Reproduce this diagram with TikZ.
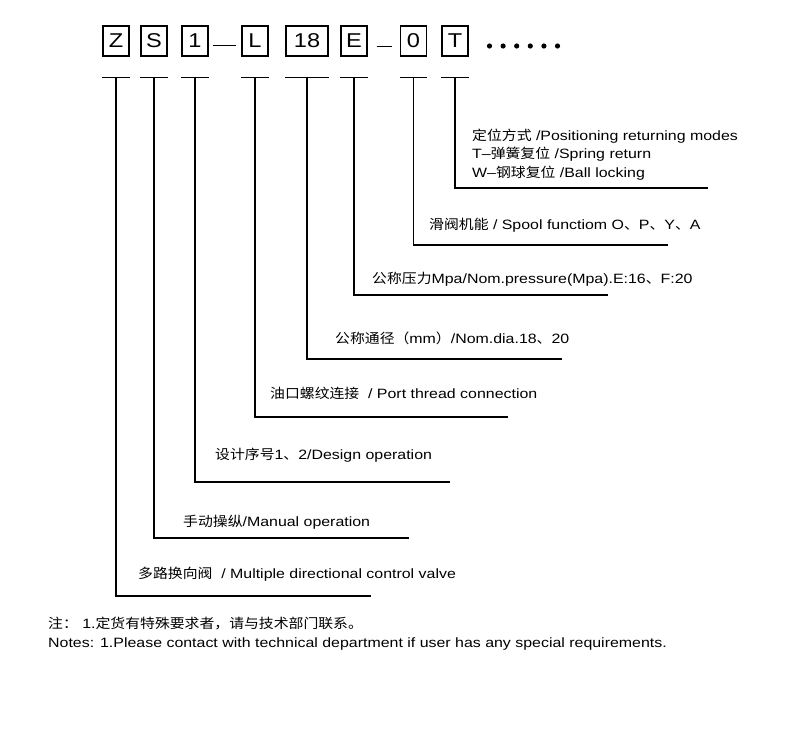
\documentclass[tikz,border=0pt]{standalone}
\usepackage{fontspec}
\setmainfont{Liberation Sans}[FakeStretch=1.18]
\newfontfamily\cjk{Noto Sans CJK SC}[FakeStretch=1.1]
\newcommand\zh[1]{{\cjk #1}}
\tikzset{
    codebox/.style={draw, line width=1.1pt, minimum width=26pt, minimum height=30pt, inner sep=0pt, font=\fontsize{20}{20}\selectfont},
    legend/.style={anchor=base west, inner sep=0pt, font=\fontsize{13.5}{15}\selectfont},
    leader/.style={line width=1.1pt},
}
\begin{document}
\begin{tikzpicture}[x=1pt, y=-1pt]
    \useasboundingbox (0,0) rectangle (800,750);
    % model code boxes
    \node[codebox] (z) at (116,41) {Z};
    \node[codebox] (s) at (154,41) {S};
    \node[codebox] (one) at (195,41) {1};
    \node[codebox] (l) at (255,41) {L};
    \node[codebox, minimum width=42pt] (eighteen) at (307,41) {18};
    \node[codebox] (e) at (354,41) {E};
    \node[codebox] (zero) at (413.5,41) {0};
    \node[codebox] (t) at (455,41) {T};
    \draw[line width=0.8pt] ([xshift=4pt,yshift=-4pt]one.east) -- ([xshift=-5pt,yshift=-4pt]l.west);
    \draw[line width=0.8pt] ([xshift=9pt,yshift=-5pt]e.east) -- ([xshift=-8pt,yshift=-5pt]zero.west);
    \foreach \i in {0,...,5}
        \fill (489.5+13.6*\i,46) circle (2.6pt);

    % explanations
    \node[legend] (tA) at (472,140) {\zh{定位方式} /Positioning returning modes};
    \node[legend] (tB) at (472,158) {T--\zh{弹簧复位} /Spring return};
    \node[legend] (tC) at (472,177) {W--\zh{钢球复位} /Ball locking};
    \node[legend] (zeroA) at (429,229) {\zh{滑阀机能} / Spool functiom O\zh{、}P\zh{、}Y\zh{、}A};
    \node[legend] (eA) at (372,283) {\zh{公称压力}Mpa/Nom.pressure(Mpa).E:16\zh{、}F:20};
    \node[legend] (eighteenA) at (335,343) {\zh{公称通径（}mm\zh{）}/Nom.dia.18\zh{、}20};
    \node[legend] (lA) at (270,398) {\zh{油口螺纹连接}\ \ / Port thread connection};
    \node[legend] (oneA) at (215,459) {\zh{设计序号}1\zh{、}2/Design operation};
    \node[legend] (sA) at (183,526) {\zh{手动操纵}/Manual operation};
    \node[legend] (zA) at (138,578) {\zh{多路换向阀}\ \ / Multiple directional control valve};

    % leader lines
    \foreach \b/\y/\xe in {z/596/371, s/538/409, one/482/450, l/417/508,
                          eighteen/359/562, e/295/608, zero/245/668, t/188/708} {
        \coordinate (\b End) at (\xe,\y);
        \draw[leader] ([yshift=-21pt]\b.south west) -- ([yshift=-21pt]\b.south east);
        \draw[leader] ([yshift=-21pt]\b.south) |- (\b End);
    }

    % notes
    \node[legend] (noteA) at (48,628) {\zh{注：} 1.\zh{定货有特殊要求者，请与技术部门联系。}};
    \node[legend] (noteB) at (48,647) {Notes: 1.Please contact with technical department if user has any special requirements.};
\end{tikzpicture}
\end{document}
